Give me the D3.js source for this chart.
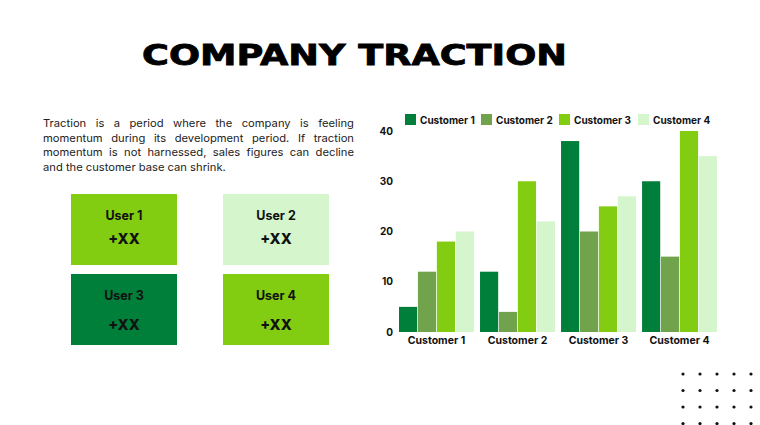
<!DOCTYPE html>
<html>
<head>
<meta charset="utf-8">
<script src="https://cdn.jsdelivr.net/npm/d3@7"></script>
<style>
  body { margin: 0; background: #fff; }
  svg { display: block; }
</style>
</head>
<body>
<script>
// data
var groups = ["Customer 1", "Customer 2", "Customer 3", "Customer 4"];
var series = ["Customer 1", "Customer 2", "Customer 3", "Customer 4"];
var cust1 = [5, 12, 38, 30];
var cust2 = [12, 4, 20, 15];
var cust3 = [18, 30, 25, 40];
var cust4 = [20, 22, 27, 35];
var yTicks = [0, 10, 20, 30, 40];
var users = ["User 1", "User 2", "User 3", "User 4"];
var userValues = ["+XX", "+XX", "+XX", "+XX"];
var paragraph = [
  "Traction is a period where the company is feeling",
  "momentum during its development period. If traction",
  "momentum is not harnessed, sales figures can decline",
  "and the customer base can shrink."
];

var colors = ["#007f3a", "#70a34b", "#82cc12", "#d5f5cd"];
var userColors = ["#82cc12", "#d5f5cd", "#007f3a", "#82cc12"];
var font = "Inter, 'Open Sans', sans-serif";

var width = 760, height = 425;
var svg = d3.select("body").append("svg")
  .attr("width", width)
  .attr("height", height);

// title
svg.append("text")
  .attr("x", 142).attr("y", 65)
  .attr("textLength", 425)
  .attr("lengthAdjust", "spacingAndGlyphs")
  .style("font-family", "'DejaVu Sans', sans-serif")
  .style("font-weight", 900)
  .style("font-size", "28px")
  .style("fill", "#000")
  .style("stroke", "#000")
  .style("stroke-width", 0.8)
  .text("COMPANY TRACTION");

// paragraph, justified by spreading the word gaps
var para = svg.append("g");
var probe = para.append("text")
  .style("font-family", font).style("font-size", "10.8px")
  .text(paragraph[paragraph.length - 1]);
var sx = 183 / probe.node().getComputedTextLength();
probe.remove();
para.attr("transform", "translate(43,0) scale(" + sx + ",1)");
var lineW = 311 / sx;
paragraph.forEach(function(line, i) {
  var words = line.split(" ");
  var row = para.append("g");
  var widths = words.map(function(w) {
    var t = row.append("text")
      .attr("y", 127 + i * 14.6)
      .style("font-family", font)
      .style("font-size", "10.8px")
      .style("fill", "#222")
      .text(w);
    return t.node().getComputedTextLength();
  });
  var total = d3.sum(widths);
  var space = 3;
  if (i < paragraph.length - 1) space = (lineW - total) / (words.length - 1);
  var cx = 0;
  row.selectAll("text").each(function(d, k) {
    d3.select(this).attr("x", cx);
    cx += widths[k] + space;
  });
});

// user boxes
var boxX = [71, 223, 71, 223], boxY = [194, 194, 274, 274];
var boxes = svg.selectAll(".user").data(users).enter()
  .append("g")
  .attr("transform", function(d, i) { return "translate(" + boxX[i] + "," + boxY[i] + ")"; });
boxes.append("rect")
  .attr("width", 106).attr("height", 71)
  .attr("fill", function(d, i) { return userColors[i]; });
boxes.append("text")
  .attr("x", 53).attr("y", 25.5)
  .attr("text-anchor", "middle")
  .style("font-family", font).style("font-weight", 700)
  .style("font-size", "12.5px").style("fill", "#111")
  .text(function(d) { return d; });
boxes.append("text")
  .attr("x", 53).attr("y", function(d, i) { return i < 2 ? 50 : 56; })
  .attr("text-anchor", "middle")
  .style("font-family", font).style("font-weight", 800)
  .style("font-size", "14.5px").style("fill", "#111")
  .text(function(d, i) { return userValues[i]; });

// chart
var allSeries = [cust1, cust2, cust3, cust4];
var x0 = d3.scaleBand().domain(groups).range([399, 717]).paddingInner(0.075).paddingOuter(0);
var x1 = d3.scaleBand().domain(series).range([0, x0.bandwidth()]).paddingInner(0.04);
var y = d3.scaleLinear().domain([0, 40]).range([332, 131]);

var chart = svg.append("g");
var gGroups = chart.selectAll(".grp").data(groups).enter()
  .append("g")
  .attr("transform", function(d) { return "translate(" + x0(d) + ",0)"; });
gGroups.selectAll("rect")
  .data(function(d, gi) { return series.map(function(s, si) { return { s: s, v: allSeries[si][gi], i: si }; }); })
  .enter().append("rect")
  .attr("x", function(d) { return x1(d.s); })
  .attr("y", function(d) { return y(d.v); })
  .attr("width", x1.bandwidth())
  .attr("height", function(d) { return y(0) - y(d.v); })
  .attr("fill", function(d) { return colors[d.i]; });

var yAxis = chart.append("g")
  .attr("transform", "translate(393,0)")
  .call(d3.axisLeft(y).tickValues(yTicks).tickSize(0).tickPadding(0));
yAxis.select(".domain").remove();
yAxis.selectAll("text")
  .style("font-family", font).style("font-weight", 700)
  .style("font-size", "10px").style("fill", "#111");

var xAxis = chart.append("g")
  .attr("transform", "translate(0,337)")
  .call(d3.axisBottom(x0).tickSize(0).tickPadding(0));
xAxis.select(".domain").remove();
xAxis.selectAll("text")
  .style("font-family", font).style("font-weight", 700)
  .style("font-size", "10.5px").style("fill", "#111");

// legend
var legX = [405, 481, 559, 638];
var leg = svg.selectAll(".leg").data(series).enter()
  .append("g")
  .attr("transform", function(d, i) { return "translate(" + legX[i] + ",114)"; });
leg.append("rect")
  .attr("width", 11).attr("height", 11)
  .attr("fill", function(d, i) { return colors[i]; });
leg.append("text")
  .attr("x", 15).attr("y", 9.5)
  .style("font-family", font).style("font-weight", 700)
  .style("font-size", "10px").style("fill", "#111")
  .text(function(d) { return d; });

// dot grid decoration
var dotCols = d3.range(5), dotRows = d3.range(4);
svg.append("g").selectAll("circle")
  .data(d3.cross(dotRows, dotCols)).enter()
  .append("circle")
  .attr("cx", function(d) { return 683 + d[1] * 17; })
  .attr("cy", function(d) { return 374 + d[0] * 16.5; })
  .attr("r", 1.6)
  .attr("fill", "#111");
</script>
</body>
</html>
